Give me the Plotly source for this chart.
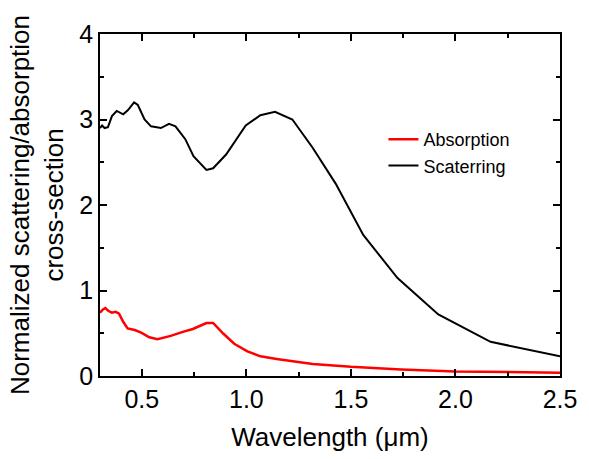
import plotly.graph_objects as go

# Scattering (black) curve
sca_x = [0.30, 0.31, 0.322, 0.338, 0.357, 0.38, 0.411, 0.434, 0.463, 0.481, 0.513, 0.544,
         0.591, 0.63, 0.661, 0.708, 0.747, 0.809, 0.841, 0.903, 0.997, 1.067, 1.137, 1.22,
         1.317, 1.427, 1.559, 1.723, 1.918, 2.168, 2.50]
sca_y = [2.90, 2.93, 2.90, 2.91, 3.04, 3.10, 3.06, 3.11, 3.20, 3.17, 3.00, 2.92,
         2.90, 2.95, 2.92, 2.77, 2.57, 2.41, 2.43, 2.59, 2.93, 3.05, 3.09, 3.00,
         2.67, 2.25, 1.65, 1.145, 0.72, 0.40, 0.23]

# Absorption (red) curve
abs_x = [0.30, 0.313, 0.325, 0.341, 0.357, 0.375, 0.391, 0.411, 0.432, 0.466, 0.497, 0.536,
         0.575, 0.638, 0.70, 0.744, 0.809, 0.841, 0.888, 0.942, 1.005, 1.067, 1.145, 1.231,
         1.317, 1.50, 1.74, 2.00, 2.25, 2.50]
abs_y = [0.74, 0.776, 0.795, 0.76, 0.74, 0.75, 0.73, 0.634, 0.557, 0.538, 0.507, 0.453,
         0.43, 0.469, 0.519, 0.55, 0.62, 0.62, 0.50, 0.377, 0.288, 0.23, 0.20, 0.17,
         0.14, 0.107, 0.077, 0.054, 0.046, 0.038]

x_ticks = [0.5, 1.0, 1.5, 2.0, 2.5]
x_ticklabels = ["0.5", "1.0", "1.5", "2.0", "2.5"]
y_ticks = [0, 1, 2, 3, 4]
y_ticklabels = ["0", "1", "2", "3", "4"]

FONT = "Arial, Liberation Sans, sans-serif"

fig = go.Figure()
fig.add_trace(go.Scatter(x=abs_x, y=abs_y, mode="lines", name="Absorption",
                         line=dict(color="#ff0000", width=2.5)))
fig.add_trace(go.Scatter(x=sca_x, y=sca_y, mode="lines", name="Scaterring",
                         line=dict(color="#000000", width=2)))

axis_common = dict(
    showline=True, linecolor="black", linewidth=1.5, mirror="ticks",
    ticks="inside", ticklen=7, tickwidth=1.5, tickcolor="black",
    showgrid=False, zeroline=False, ticklabeloverflow="allow",
    tickfont=dict(family=FONT, size=25, color="black"),
)

fig.update_xaxes(
    range=[0.3, 2.5], tickvals=x_ticks, ticktext=x_ticklabels,
    minor=dict(ticks="inside", dtick=0.25, tick0=0, ticklen=4, tickwidth=1.5, tickcolor="black"),
    title=dict(text="Wavelength (μm)", font=dict(family=FONT, size=26, color="black"), standoff=16),
    **axis_common,
)
fig.update_yaxes(
    range=[0, 4], tickvals=y_ticks, ticktext=y_ticklabels,
    minor=dict(ticks="inside", dtick=0.5, tick0=0, ticklen=4, tickwidth=1.5, tickcolor="black"),
    title=dict(text="Normalized scattering/absorption<br>cross-section",
               font=dict(family=FONT, size=26, color="black"), standoff=8),
    **axis_common,
)

fig.update_layout(
    width=589, height=459,
    margin=dict(l=100, r=20, t=34, b=79),
    plot_bgcolor="white", paper_bgcolor="white",
    showlegend=True,
    legend=dict(x=289 / 469, y=1 - 88 / 346, xanchor="left", yanchor="top",
                bgcolor="rgba(0,0,0,0)", font=dict(family=FONT, size=18, color="black"),
                tracegroupgap=0),
)

# pin the 589x459 figure to the window's top-left corner, with no page margin or scrollbars
post = ("document.documentElement.style.margin='0';"
        "document.body.style.margin='0';"
        "document.documentElement.style.overflow='hidden';"
        "document.body.style.overflow='hidden';"
        "var gd=document.getElementById('{plot_id}');"
        "gd.style.position='fixed';gd.style.left='0px';gd.style.top='0px';")

fig.write_html("out.html", post_script=post, config={"displayModeBar": False})
